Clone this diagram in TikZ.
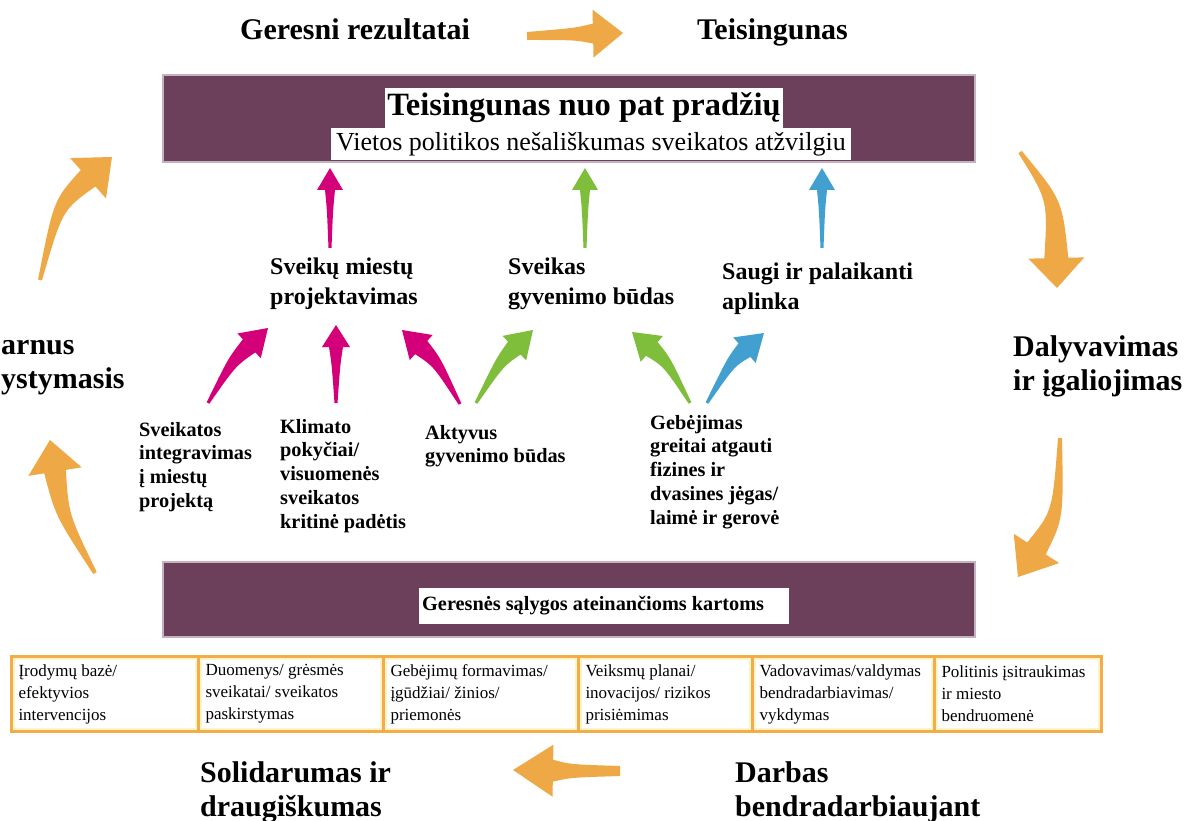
\documentclass[tikz,border=0pt]{standalone}
\usepackage{fontspec}
\setmainfont{Liberation Serif}
\usetikzlibrary{calc}

\definecolor{plum}{RGB}{108,63,90}
\definecolor{plumedge}{RGB}{196,178,190}
\definecolor{amber}{RGB}{238,168,70}
\definecolor{tableedge}{RGB}{242,172,72}
\definecolor{cellglow}{RGB}{255,244,200}
\definecolor{rose}{RGB}{212,0,122}
\definecolor{leaf}{RGB}{126,190,58}
\definecolor{sky}{RGB}{66,160,208}

% Tapered, slightly bent block arrow:
% #1 colour, #2 tail, #3 bend, #4 tip, #5 head length, #6 head half-width,
% #7 shaft half-width at the head, #8 half-width at the tail
\newcommand\taperarrow[8]{%
  \path ($(#4)!#5!(#3)$) coordinate (hb);
  \fill[#1] ($(#2)!#8!90:(#3)$)
    .. controls ($(#3)!0.6*#7!90:(hb)$) .. ($(hb)!#7!90:(#4)$)
    -- ($(hb)!#6!90:(#4)$) -- (#4) -- ($(hb)!#6!-90:(#4)$)
    -- ($(hb)!#7!-90:(#4)$)
    .. controls ($(#3)!0.6*#7!-90:(hb)$) .. ($(#2)!#8!-90:(#3)$) -- cycle;
}

\tikzset{
  cyclelbl/.style={anchor=north west, inner sep=0pt, align=left,
    font=\fontsize{30}{34}\selectfont\bfseries},
  midlbl/.style={anchor=north west, inner sep=0pt, align=left,
    font=\fontsize{24}{30}\selectfont\bfseries},
  lowlbl/.style={anchor=north west, inner sep=0pt, align=left,
    font=\fontsize{20.3}{23.7}\selectfont\bfseries},
  band/.style={fill=plum, draw=plumedge, line width=2pt, inner sep=0pt},
  whitebox/.style={fill=white, inner sep=0pt},
  cell/.style={anchor=north west, fill=white, draw=tableedge, line width=3pt,
    inner sep=7pt, minimum height=75pt, align=flush left,
    font=\fontsize{17}{22}\selectfont,
    path picture={\draw[cellglow, line width=7pt]
      (path picture bounding box.south west) rectangle (path picture bounding box.north east);}},
}

\begin{document}
\hyphenpenalty=10000
\exhyphenpenalty=10000
\begin{tikzpicture}[x=1pt,y=-1pt]
\useasboundingbox (0,0) rectangle (1197,821);
\fill[white] (0,0) rectangle (1197,821);

% ---- purple bands with their captions
\node[band, minimum width=812pt, minimum height=87pt] (topband) at (569,118.5) {};
\node[whitebox, minimum width=398pt, minimum height=40pt,
      font=\fontsize{32.5}{36}\selectfont\bfseries] (title) at (584,108) {Teisingunas nuo pat pradžių};
\node[whitebox, minimum width=520pt, minimum height=32pt,
      font=\fontsize{26}{30}\selectfont] (subtitle) at (591,144) {Vietos politikos nešališkumas sveikatos atžvilgiu};

\node[band, minimum width=812pt, minimum height=75pt] (lowband) at (569,599.5) {};
\node[whitebox, anchor=west, text width=364pt, inner sep=3pt, minimum height=36pt, align=flush left,
      font=\fontsize{20.3}{24}\selectfont\bfseries] (future) at (419,606) {Geresnės sąlygos ateinančioms kartoms};

% ---- table of tools
\node[cell, text width=173pt] (c1) at (10,655) {Įrodymų bazė/\\efektyvios\\intervencijos};
\node[cell, text width=171pt] (c2) at (197,655) {Duomenys/ grėsmės\\sveikatai/ sveikatos\\paskirstymas};
\node[cell, text width=181pt] (c3) at (382,655) {Gebėjimų formavimas/\\įgūdžiai/ žinios/\\priemonės};
\node[cell, text width=160pt] (c4) at (577,655) {Veiksmų planai/\\inovacijos/ rizikos\\prisiėmimas};
\node[cell, text width=168pt] (c5) at (751,655) {Vadovavimas/valdymas\\bendradarbiavimas/\\vykdymas};
\node[cell, text width=153pt] (c6) at (933,655) {Politinis įsitraukimas\\ir miesto\\bendruomenė};

% ---- outer cycle labels
\node[cyclelbl] (results) at (240,18) {Geresni rezultatai};
\node[cyclelbl] (equity) at (697,18) {Teisingunas};
\node[cyclelbl] (partic) at (1013,335) {Dalyvavimas\\ir įgaliojimas};
\node[cyclelbl] (collab) at (735,761) {Darbas\\bendradarbiaujant};
\node[cyclelbl] (solid) at (200,761) {Solidarumas ir\\draugiškumas};
\node[cyclelbl] (sustain) at (1,340) {arnus\\ystymasis};

% ---- middle themes
\node[midlbl] (design) at (270,258) {Sveikų miestų\\projektavimas};
\node[midlbl] (lifestyle) at (508,258) {Sveikas\\gyvenimo būdas};
\node[midlbl] (environ) at (722,263) {Saugi ir palaikanti\\aplinka};

% ---- contributing factors
\node[lowlbl] (integr) at (139,422) {Sveikatos\\integravimas\\į miestų\\projektą};
\node[lowlbl] (climate) at (280,419) {Klimato\\pokyčiai/\\visuomenės\\sveikatos\\kritinė padėtis};
\node[lowlbl] (active) at (425,425) {Aktyvus\\gyvenimo būdas};
\node[lowlbl] (resil) at (650,415) {Gebėjimas\\greitai atgauti\\fizines ir\\dvasines jėgas/\\laimė ir gerovė};

% ---- arrow end points
\coordinate (o1t) at (527,36);   \coordinate (o1b) at (575,34);   \coordinate (o1h) at (623,33);
\coordinate (o2t) at (1020,152); \coordinate (o2b) at (1055,200); \coordinate (o2h) at (1057,288);
\coordinate (o3t) at (1060,438); \coordinate (o3b) at (1058,515); \coordinate (o3h) at (1018,577);
\coordinate (o4t) at (620,771);  \coordinate (o4b) at (570,771);  \coordinate (o4h) at (513,770);
\coordinate (o5t) at (95,573);   \coordinate (o5b) at (62,515);   \coordinate (o5h) at (50,440);
\coordinate (o6t) at (40,280);   \coordinate (o6b) at (58,205);   \coordinate (o6h) at (112,157);

\coordinate (rat) at (330,248); \coordinate (rab) at (330,210); \coordinate (rah) at (330,168);
\coordinate (gat) at (585,248); \coordinate (gab) at (585,210); \coordinate (gah) at (585,168);
\coordinate (bat) at (822,248); \coordinate (bab) at (822,210); \coordinate (bah) at (822,168);

\coordinate (rbt) at (208,403); \coordinate (rbb) at (232,362); \coordinate (rbh) at (268,328);
\coordinate (rct) at (336,403); \coordinate (rcb) at (336,365); \coordinate (rch) at (336,325);
\coordinate (rdt) at (460,404); \coordinate (rdb) at (437,362); \coordinate (rdh) at (402,330);
\coordinate (gbt) at (476,403); \coordinate (gbb) at (500,362); \coordinate (gbh) at (533,330);
\coordinate (gct) at (690,403); \coordinate (gcb) at (667,362); \coordinate (gch) at (632,332);
\coordinate (bbt) at (707,403); \coordinate (bbb) at (731,362); \coordinate (bbh) at (764,333);

% ---- cycle arrows
\taperarrow{amber}{o1t}{o1b}{o1h}{30pt}{24pt}{10pt}{4pt}
\taperarrow{amber}{o2t}{o2b}{o2h}{30pt}{28pt}{12pt}{2pt}
\taperarrow{amber}{o3t}{o3b}{o3h}{34pt}{27pt}{11pt}{2pt}
\taperarrow{amber}{o4t}{o4b}{o4h}{40pt}{26pt}{11pt}{5pt}
\taperarrow{amber}{o5t}{o5b}{o5h}{32pt}{27pt}{11pt}{2pt}
\taperarrow{amber}{o6t}{o6b}{o6h}{32pt}{27pt}{11pt}{2pt}

% ---- themes up to the top band
\taperarrow{rose}{rat}{rab}{rah}{22pt}{13pt}{5pt}{1.5pt}
\taperarrow{leaf}{gat}{gab}{gah}{22pt}{13pt}{5pt}{1.5pt}
\taperarrow{sky}{bat}{bab}{bah}{22pt}{13pt}{5pt}{1.5pt}

% ---- factors up to the themes
\taperarrow{rose}{rbt}{rbb}{rbh}{26pt}{17pt}{9pt}{1.5pt}
\taperarrow{rose}{rct}{rcb}{rch}{22pt}{14pt}{7pt}{1.5pt}
\taperarrow{rose}{rdt}{rdb}{rdh}{26pt}{17pt}{9pt}{1.5pt}
\taperarrow{leaf}{gbt}{gbb}{gbh}{26pt}{17pt}{9pt}{1.5pt}
\taperarrow{leaf}{gct}{gcb}{gch}{26pt}{17pt}{9pt}{1.5pt}
\taperarrow{sky}{bbt}{bbb}{bbh}{26pt}{17pt}{9pt}{1.5pt}
\end{tikzpicture}
\end{document}
